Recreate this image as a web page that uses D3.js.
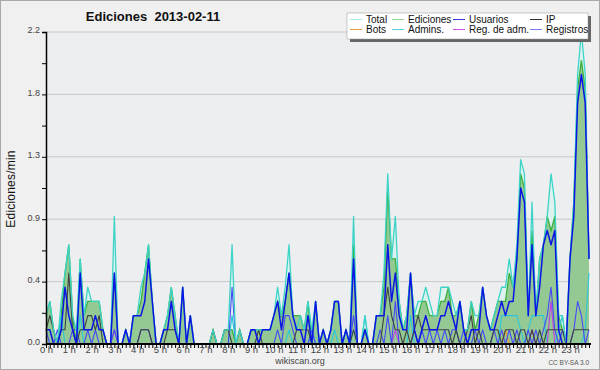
<!DOCTYPE html>
<html>
<head>
<meta charset="utf-8">
<script src="https://cdn.jsdelivr.net/npm/d3@7"></script>
<style>
  body { margin: 0; background: #f0f0f0; }
  svg { display: block; font-family: "Liberation Sans", Arial, sans-serif; }
</style>
</head>
<body>
<script>
// Edits per 10-minute slot (24 h x 6 slots)
const total = [
  2,3,1,0,3,5,  7,2,1,6,2,4,  3,3,3,1,0,0,  9,0,0,1,0,2,
  2,4,5,7,3,0,  0,1,2,4,2,0,  4,0,2,0,0,0,  0,0,1,0,0,1,
  1,7,0,1,0,0,  1,1,1,1,1,1,  2,4,2,4,7,2,  1,2,1,3,1,3,
  0,1,0,1,3,3,  0,1,0,9,0,0,  2,0,0,2,2,5,  12,6,9,3,1,2,
  5,2,3,3,4,3,  2,2,4,4,4,3,  2,3,1,1,3,2,  2,4,2,1,2,3,
  4,4,6,4,7,13, 12,2,10,2,6,7, 9,12,10,2,2,0, 6,10,19,22,19,6
];
const ediciones = [
  2,3,1,0,2,5,  7,2,0,6,2,3,  3,3,3,1,0,0,  5,0,0,1,0,2,
  2,3,5,7,3,0,  0,1,2,4,2,0,  4,0,2,0,0,0,  0,0,1,0,0,1,
  1,1,0,1,0,0,  1,1,1,1,1,1,  2,3,2,3,5,2,  2,2,1,3,0,3,
  0,1,0,1,3,3,  0,1,0,7,0,0,  1,0,0,2,2,4,  11,6,6,3,1,2,
  5,2,2,3,3,2,  2,2,3,3,4,2,  2,3,1,1,3,1,  2,4,2,1,2,3,
  3,3,5,4,6,12, 11,2,8,2,6,7, 9,8,9,2,1,0,  6,10,18,20,18,6
];
const usuarios = [
  1,1,0,0,1,4,  2,1,0,5,1,1,  1,2,1,1,0,0,  5,0,0,1,0,2,
  2,2,3,6,3,0,  0,1,1,3,1,0,  4,0,2,0,0,0,  0,0,0,0,0,0,
  0,0,0,0,0,0,  1,1,0,1,1,1,  2,3,1,3,5,2,  1,1,0,2,0,3,
  0,1,0,1,3,3,  0,1,0,6,0,0,  1,0,0,2,2,2,  7,3,5,2,1,1,
  5,1,0,1,2,1,  1,1,2,2,3,2,  1,3,1,0,1,1,  1,4,2,1,1,2,
  3,2,3,3,6,11, 10,2,7,2,4,7, 8,7,8,1,0,0,  6,9,17,19,17,6
];
const ip = [
  1,2,1,0,1,1,  5,1,0,1,1,2,  2,1,2,0,0,0,  0,0,0,0,0,0,
  0,1,1,1,0,0,  0,0,1,1,1,0,  0,0,0,0,0,0,  0,0,1,0,0,1,
  1,0,0,1,0,0,  0,0,1,0,0,0,  0,0,0,0,0,0,  1,1,1,1,0,0,
  0,0,0,0,0,0,  0,0,0,1,0,0,  0,0,0,0,0,2,  4,2,1,1,0,1,
  0,1,2,1,1,1,  1,1,1,1,1,0,  1,0,0,1,2,0,  1,0,0,0,1,1,
  0,1,1,1,0,1,  1,0,1,0,1,0,  1,1,1,1,1,0,  0,1,1,1,1,1
];
const registros = [
  1,0,0,1,0,0,  0,1,1,0,0,1,  0,1,0,0,0,0,  1,0,0,0,0,0,
  0,1,1,1,0,0,  0,0,0,0,0,0,  0,0,0,0,0,0,  0,0,0,0,0,0,
  0,4,0,0,0,0,  0,0,0,0,0,0,  0,1,0,2,2,1,  0,0,0,0,1,0,
  0,0,0,0,0,0,  0,0,0,2,0,0,  0,0,0,0,1,0,  2,0,3,0,0,0,
  0,1,0,1,0,1,  0,1,0,1,0,1,  1,0,1,0,0,1,  0,1,0,0,1,0,
  1,0,1,0,1,0,  0,1,0,1,0,1,  2,4,1,0,1,0,  0,1,3,2,0,1
];
const admins = [
  0,0,0,0,2,0,  0,0,0,2,0,0,  0,0,0,0,0,0,  0,0,0,0,0,0,
  0,0,0,0,0,0,  0,0,0,0,0,0,  0,0,0,0,0,0,  0,0,0,0,0,0,
  0,2,0,0,0,0,  0,0,0,0,0,0,  0,0,0,0,1,0,  0,0,0,0,1,0,
  0,0,0,0,1,0,  0,0,0,1,0,0,  2,0,0,0,0,0,  0,0,0,0,0,0,
  2,0,0,0,0,0,  0,0,0,0,0,0,  0,0,0,0,0,0,  0,0,0,0,0,0,
  2,2,2,2,2,1,  0,1,2,2,2,2,  0,0,0,1,2,0,  0,0,0,0,1,5
];
const regAdm = [
  0,0,0,0,0,0,  0,0,0,0,0,0,  0,0,0,0,0,0,  1,0,0,0,0,0,
  0,0,0,0,0,0,  0,0,0,0,0,0,  0,0,0,0,0,0,  0,0,0,0,0,0,
  0,0,0,0,0,0,  0,0,0,0,0,0,  0,0,0,0,0,0,  0,0,0,0,0,0,
  0,0,0,0,0,0,  0,0,0,0,0,0,  0,0,0,0,0,0,  0,0,1,0,0,0,
  0,0,0,0,0,0,  0,0,0,0,0,0,  0,0,0,0,0,0,  0,0,0,0,0,0,
  0,0,0,0,0,0,  0,0,1,0,0,0,  0,3,0,0,0,0,  0,0,0,0,0,0
];
const bots = [
  0,0,0,0,0,0,  0,0,0,0,0,0,  0,0,0,0,0,0,  0,0,0,0,0,0,
  0,0,0,0,0,0,  0,0,0,0,0,0,  0,0,0,0,0,0,  0,0,0,0,0,0,
  0,0,0,0,0,0,  0,0,0,0,0,0,  0,0,0,0,0,0,  0,0,0,0,0,0,
  0,0,0,0,0,0,  0,0,0,0,0,0,  0,0,0,0,0,0,  0,0,0,0,0,0,
  0,0,0,0,0,0,  0,0,0,0,0,0,  0,0,0,0,0,0,  0,0,0,0,0,0,
  0,1,0,0,0,0,  0,0,0,0,0,0,  0,0,0,0,0,0,  0,0,0,0,0,0
];

const legendNames = ["Total", "Ediciones", "Usuarios", "IP", "Bots", "Admins.", "Reg. de adm.", "Registros"];
const legendColors = ["#a8e6e0", "#8fd68f", "#3a3ae0", "#333333", "#f0a040", "#50d4e4", "#d050e8", "#7878f0"];

const W = 600, H = 370;
const mLeft = 46, mRight = 589, mTop = 32, mBottom = 344;

const svg = d3.select("body").append("svg")
  .attr("width", W)
  .attr("height", H);

// frame
svg.append("rect")
  .attr("x", 0.5).attr("y", 0.5)
  .attr("width", W - 1).attr("height", H - 1)
  .attr("fill", "#f0f0f0")
  .attr("stroke", "#a8a8a8");

// scales: x in 10-min slots, y in edits per slot (shown as edits/min)
const x = d3.scaleLinear().domain([0, 143]).range([mLeft, mRight]);
const y = d3.scaleLinear().domain([0, 22]).range([mBottom, mTop]);

svg.append("rect")
  .attr("x", mLeft).attr("y", mTop)
  .attr("width", mRight - mLeft).attr("height", mBottom - mTop)
  .attr("fill", "#eceef0");

// grid lines
const yMajor = [4.4, 8.8, 13.2, 17.6, 22];
svg.append("g").selectAll("line")
  .data(yMajor)
  .enter().append("line")
  .attr("x1", mLeft).attr("x2", mRight)
  .attr("y1", d => y(d)).attr("y2", d => y(d))
  .attr("stroke", "#c8c8c8")
  .attr("stroke-width", 1);

const idx = d3.range(144);

const area = (arr) => d3.area()
  .x(i => x(i)).y0(y(0)).y1(i => y(arr[i]))(idx);
const line = (arr) => d3.line()
  .x(i => x(i)).y(i => y(arr[i]))(idx);

// total area (light) and edits area (green)
svg.append("path").attr("d", area(total))
  .attr("fill", "#dcf2ee").attr("opacity", 0.9);
svg.append("path").attr("d", area(ediciones))
  .attr("fill", "#94c994");
svg.append("path").attr("d", line(ediciones))
  .attr("fill", "none").attr("stroke", "#3cb03c").attr("stroke-width", 1.3);

const series = [
  { data: admins, color: "#28c8dc", w: 1.1 },
  { data: bots, color: "#f09020", w: 1.1 },
  { data: regAdm, color: "#c040e0", w: 1.1 },
  { data: registros, color: "#4848f8", w: 1.1 },
  { data: ip, color: "#404040", w: 1.1 },
  { data: total, color: "#3cd4c8", w: 1.3 },
  { data: usuarios, color: "#0a14e6", w: 1.5 }
];

svg.append("g").selectAll("path")
  .data(series)
  .enter().append("path")
  .attr("d", d => line(d.data))
  .attr("fill", "none")
  .attr("stroke", d => d.color)
  .attr("stroke-width", d => d.w)
  .attr("stroke-linejoin", "round");

// y axis
const yAxis = d3.axisLeft(y)
  .tickValues(d3.range(0, 11).map(k => k * 2.2))
  .tickSize(4)
  .tickFormat((d, k) => k % 2 === 0 ? d3.format(".1f")(d / 10) : "");
const gy = svg.append("g")
  .attr("transform", "translate(" + mLeft + ",0)")
  .call(yAxis);
gy.select(".domain").attr("stroke", "#000").attr("stroke-width", 1.5);
gy.selectAll(".tick line").attr("stroke", "#000");
gy.selectAll(".tick text")
  .attr("font-family", "Liberation Sans, Arial, sans-serif")
  .attr("font-size", 9)
  .attr("fill", "#444")
  .attr("x", -6)
  .attr("dy", "0.1em");

// x axis
const xAxis = d3.axisBottom(x)
  .tickValues(d3.range(0, 144))
  .tickSize(4)
  .tickFormat(d => d % 6 === 0 ? (d / 6) + " h" : "");
const gx = svg.append("g")
  .attr("transform", "translate(0," + mBottom + ")")
  .call(xAxis);
gx.select(".domain").attr("stroke", "#000").attr("stroke-width", 2)
  .attr("d", "M" + mLeft + ",0H" + (mRight + 2));
gx.selectAll(".tick line").attr("stroke", "#000");
gx.selectAll(".tick text")
  .attr("font-family", "Liberation Sans, Arial, sans-serif")
  .attr("font-size", 9.5)
  .attr("fill", "#444")
  .attr("y", 2)
  .attr("dy", "0.75em");

// title
svg.append("text")
  .attr("x", 153).attr("y", 21)
  .attr("text-anchor", "middle")
  .attr("font-size", 13)
  .attr("font-weight", "bold")
  .attr("fill", "#111")
  .style("white-space", "pre")
  .text("Ediciones  2013-02-11");

// y label
svg.append("text")
  .attr("transform", "translate(15,189) rotate(-90)")
  .attr("text-anchor", "middle")
  .attr("font-size", 12)
  .attr("letter-spacing", 0.2)
  .attr("fill", "#111")
  .text("Ediciones/min");

// footer
svg.append("text")
  .attr("x", 300).attr("y", 364)
  .attr("text-anchor", "middle")
  .attr("font-size", 9)
  .attr("fill", "#444")
  .text("wikiscan.org");
svg.append("text")
  .attr("x", 589).attr("y", 365)
  .attr("text-anchor", "end")
  .attr("font-size", 6.5)
  .attr("fill", "#555")
  .text("CC BY-SA 3.0");

// legend
const lg = svg.append("g").attr("id", "legend");
lg.append("rect")
  .attr("x", 350).attr("y", 16)
  .attr("width", 241).attr("height", 26)
  .attr("fill", "#666");
lg.append("rect")
  .attr("x", 347).attr("y", 13)
  .attr("width", 241).attr("height", 26)
  .attr("fill", "#fff")
  .attr("stroke", "#999")
  .attr("stroke-width", 0.5);

const colX = [350, 392, 453, 530];
const item = lg.selectAll("g.item")
  .data(legendNames)
  .enter().append("g")
  .attr("class", "item")
  .attr("transform", (d, i) => "translate(" + colX[i % 4] + "," + (i < 4 ? 19.5 : 29.5) + ")");
item.append("line")
  .attr("x1", 0).attr("x2", 12)
  .attr("stroke", (d, i) => legendColors[i])
  .attr("stroke-width", 1);
item.append("text")
  .attr("x", 16)
  .attr("dy", "0.36em")
  .attr("font-size", 10)
  .attr("fill", "#111")
  .text(d => d);
</script>
</body>
</html>
